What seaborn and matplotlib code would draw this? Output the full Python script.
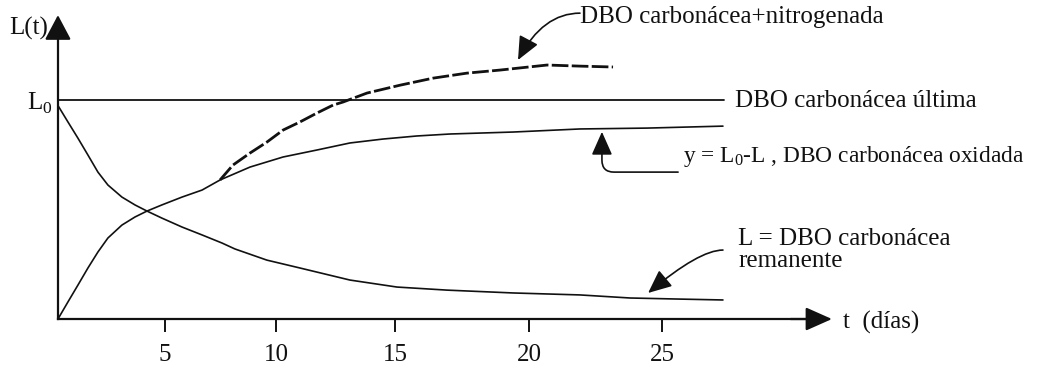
import matplotlib
matplotlib.use("Agg")
import matplotlib.pyplot as plt
import seaborn as sns

sns.set_theme(style="white")
plt.rcParams['font.family'] = ['Liberation Serif', 'DejaVu Serif']
plt.rcParams['mathtext.fontset'] = 'custom'
plt.rcParams['mathtext.rm'] = 'Liberation Serif'

# ---- data (t in days of the drawn axis, L in units of L0) ----
L0 = 1.0
t_rem = [0, 0.45, 0.9, 1.35, 1.8, 2.25, 2.88, 3.47, 4.01, 4.68, 5.59, 6.49, 7.39, 7.97, 9.41,
         10.9, 13.15, 15.27, 17.52, 20.5, 23.51, 25.77, 28.02, 29.95]
L_rem = [0.975, 0.90, 0.826, 0.749, 0.671, 0.612, 0.557, 0.521, 0.493, 0.461, 0.42, 0.384, 0.347,
         0.32, 0.269, 0.233, 0.178, 0.146, 0.132, 0.119, 0.11, 0.096, 0.091, 0.087]

t_ox = [0, 0.45, 0.9, 1.35, 1.8, 2.25, 2.88, 3.47, 4.01, 4.68, 5.59, 6.49, 7.3, 8.65, 10.14,
        11.67, 13.15, 14.64, 16.17, 17.66, 20.5, 23.51, 26.53, 29.95]
y_ox = [0, 0.078, 0.155, 0.233, 0.306, 0.37, 0.429, 0.466, 0.493, 0.521, 0.557, 0.589, 0.635,
        0.694, 0.74, 0.772, 0.804, 0.822, 0.836, 0.845, 0.854, 0.868, 0.872, 0.881]

t_nit = [7.3, 7.88, 8.65, 9.41, 10.14, 10.9, 11.67, 12.39, 12.84, 13.92, 15.41, 16.89, 18.42,
         19.91, 22.03, 23.51, 25.0]
y_nit = [0.635, 0.703, 0.758, 0.808, 0.863, 0.9, 0.941, 0.977, 0.991, 1.032, 1.068, 1.1, 1.123,
         1.137, 1.16, 1.155, 1.151]

t_ult = [0, 30.0]

tick_pos = [4.82, 9.82, 15.18, 21.22, 27.21]
tick_labels = ['5', '10', '15', '20', '25']

FS = 18
K = '#111111'

fig = plt.figure(figsize=(10.44, 3.65), dpi=100)
ax = fig.add_axes([0, 0, 1, 1])
ax.set_xlim(-2.61, 44.41)
ax.set_ylim(-0.21, 1.457)

sns.lineplot(x=t_rem, y=L_rem, ax=ax, color=K, lw=1.2)
sns.lineplot(x=t_ox, y=y_ox, ax=ax, color=K, lw=1.2)
sns.lineplot(x=t_nit, y=y_nit, ax=ax, color=K, lw=2.0, linestyle=(0, (6, 1.2)))
sns.lineplot(x=t_ult, y=[L0, L0], ax=ax, color=K, lw=1.3)

# axes drawn as arrows
for s in ['top', 'right']:
    ax.spines[s].set_visible(False)
ax.spines['bottom'].set_position(('data', 0))
ax.spines['left'].set_position(('data', 0))
ax.spines['bottom'].set_bounds(0, 34.2)
ax.spines['left'].set_bounds(0, 1.36)
for s in ['bottom', 'left']:
    ax.spines[s].set_color(K)
    ax.spines[s].set_linewidth(1.6)
ax.annotate('', xy=(34.86, 0), xytext=(33.0, 0),
            arrowprops=dict(arrowstyle='-|>,head_length=0.9,head_width=0.4', mutation_scale=18,
                            color=K, lw=1.6, shrinkA=0, shrinkB=0))
ax.annotate('', xy=(0, 1.388), xytext=(0, 1.3),
            arrowprops=dict(arrowstyle='-|>,head_length=0.85,head_width=0.45', mutation_scale=18,
                            color=K, lw=1.6, shrinkA=0, shrinkB=0))

ax.set_xticks(tick_pos)
ax.set_xticklabels(tick_labels, fontsize=FS)
ax.tick_params(axis='x', direction='out', length=9, width=1.4, color=K, pad=9, bottom=True, labelcolor=K)
ax.set_yticks([L0])
ax.set_yticklabels([r'L$_{\mathrm{0}}$'], fontsize=FS)
ax.tick_params(axis='y', length=0, pad=4, left=True, labelcolor=K)
ax.grid(False)

ax.text(-0.45, 1.329, 'L(t)', ha='right', va='center', fontsize=FS, color=K)
ax.text(35.36, -0.014, 't  (días)', ha='left', va='center', fontsize=FS, color=K)

ax.text(23.51, 1.379, 'DBO carbonácea+nitrogenada', ha='left', va='center', fontsize=FS, color=K)
ax.text(30.5, 0.995, 'DBO carbonácea última', ha='left', va='center', fontsize=FS, color=K)
ax.text(28.15, 0.74, r'y = L$_{\mathrm{0}}$-L , DBO carbonácea oxidada', ha='left', va='center',
        fontsize=16.8, color=K)
ax.text(30.63, 0.315, 'L = DBO carbonácea\nremanente', ha='left', va='center', fontsize=FS,
        color=K, linespacing=1.05)

arrow = dict(arrowstyle='-|>,head_length=0.9,head_width=0.4', mutation_scale=16, color=K, lw=1.2,
             shrinkA=0, shrinkB=0)
ax.annotate('', xy=(20.72, 1.183), xytext=(23.51, 1.397),
            arrowprops=dict(arrow, connectionstyle='angle3,angleA=0,angleB=62'))
ax.annotate('', xy=(24.5, 0.855), xytext=(27.93, 0.671),
            arrowprops=dict(arrow, connectionstyle='angle,angleA=0,angleB=90,rad=12'))
ax.annotate('', xy=(26.58, 0.119), xytext=(29.95, 0.315),
            arrowprops=dict(arrow, connectionstyle='angle3,angleA=0,angleB=40'))

fig.savefig('out.png', dpi=100, facecolor='white')
